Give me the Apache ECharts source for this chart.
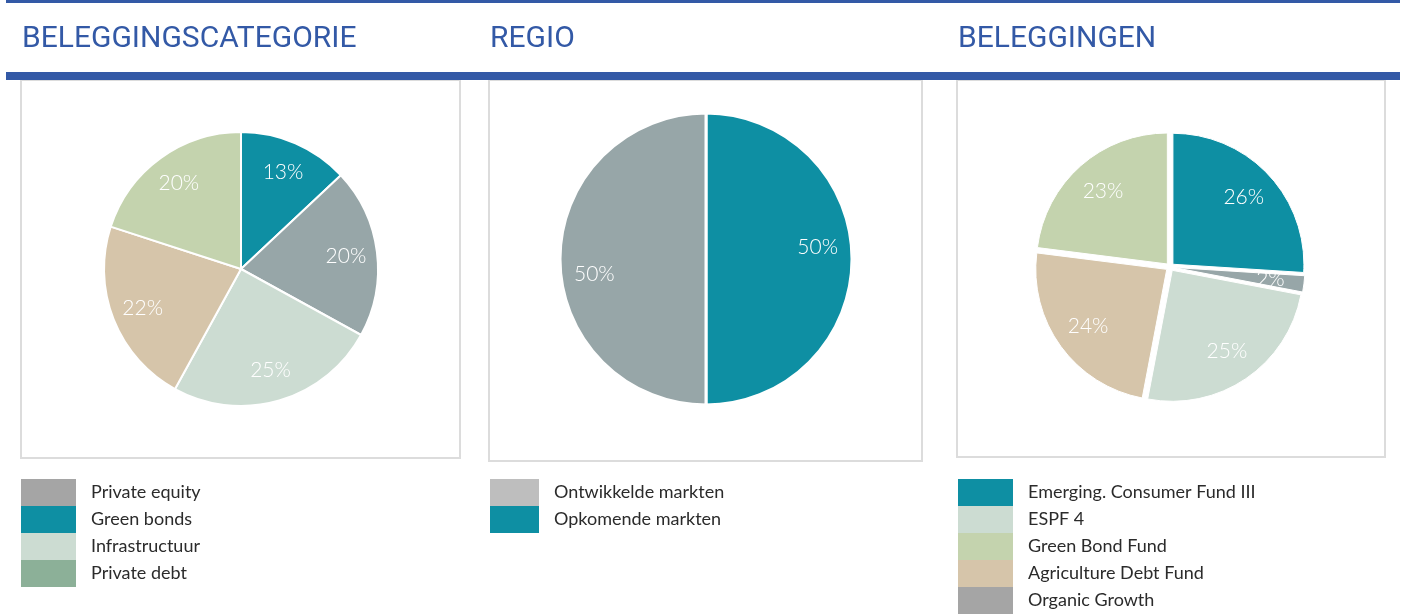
<!DOCTYPE html>
<html>
<head>
<meta charset="utf-8">
<script src="https://cdn.jsdelivr.net/npm/echarts@6/dist/echarts.min.js"></script>
<style>
  html, body { margin: 0; padding: 0; background: #fff; }
  #chart { width: 1405px; height: 615px; }
</style>
</head>
<body>
<div id="chart"></div>
<script>
// titels
var titles = ['BELEGGINGSCATEGORIE', 'REGIO', 'BELEGGINGEN'];

// beleggingscategorie (taart 1, rechtsom vanaf boven)
var catNames = ['Green bonds', 'Private equity', 'Infrastructuur', 'Overig', 'Private debt'];
var catValues = [13, 20, 25, 22, 20];
var catColors = ['#0e8fa3', '#97a6a8', '#ccdcd2', '#d6c5aa', '#c4d3ae'];
var catLegend = ['Private equity', 'Green bonds', 'Infrastructuur', 'Private debt'];
var catLegendColors = ['#a5a5a5', '#0e8fa3', '#ccdcd2', '#8cb098'];

// regio
var regNames = ['Opkomende markten', 'Ontwikkelde markten'];
var regValues = [50, 50];
var regColors = ['#0e8fa3', '#97a6a8'];
var regLegend = ['Ontwikkelde markten', 'Opkomende markten'];
var regLegendColors = ['#bebebe', '#0e8fa3'];

// beleggingen
var belNames = ['Emerging. Consumer Fund III', 'Organic Growth', 'ESPF 4', 'Agriculture Debt Fund', 'Green Bond Fund'];
var belValues = [26, 2, 25, 24, 23];
var belColors = ['#0e8fa3', '#97a6a8', '#ccdcd2', '#d6c5aa', '#c4d3ae'];
var belLegend = ['Emerging. Consumer Fund III', 'ESPF 4', 'Green Bond Fund', 'Agriculture Debt Fund', 'Organic Growth'];
var belLegendColors = ['#0e8fa3', '#ccdcd2', '#c4d3ae', '#d6c5aa', '#a5a5a5'];

var chart = echarts.init(document.getElementById('chart'));

function pieData(names, values, colors, selected) {
  return names.map(function (n, i) {
    return { name: n, value: values[i], selected: !!selected, itemStyle: { color: colors[i] } };
  });
}

// zichtbare taart zonder labels
function pie(names, values, colors, center, r, border, offset) {
  return {
    type: 'pie',
    center: center,
    radius: [0, r],
    startAngle: 90,
    clockwise: true,
    silent: true,
    animation: false,
    selectedMode: offset ? 'multiple' : false,
    selectedOffset: offset || 0,
    itemStyle: { borderColor: '#fff', borderWidth: border },
    label: { show: false },
    labelLine: { show: false },
    data: pieData(names, values, colors, !!offset),
    z: 2
  };
}

// onzichtbare ring voor de percentages (label op ca. 3/4 van de straal)
function labelRing(names, values, center, r, start) {
  return {
    type: 'pie',
    center: center,
    radius: [r * 0.5, r],
    startAngle: start || 90,
    silent: true,
    animation: false,
    itemStyle: { color: 'rgba(0,0,0,0)' },
    label: {
      show: true,
      position: 'inside',
      formatter: '{c}%',
      color: '#fff',
      fontFamily: 'Lato',
      fontWeight: 300,
      fontSize: 21
    },
    labelLine: { show: false },
    data: names.map(function (n, i) { return { name: n, value: values[i] }; }),
    z: 3
  };
}

function legend(names, colors, left, w) {
  return {
    orient: 'vertical',
    left: left,
    top: 479,
    padding: 0,
    itemGap: 0,
    itemWidth: w,
    itemHeight: 27,
    icon: 'rect',
    selectedMode: false,
    itemStyle: { borderWidth: 0 },
    textStyle: { color: '#2b2b2b', fontFamily: 'Lato', fontSize: 18, padding: [0, 0, 0, 10] },
    data: names.map(function (n, i) {
      return { name: n, itemStyle: { color: colors[i], borderWidth: 0 } };
    })
  };
}

var titleX = [22, 490, 958];
var boxes = [[21, 80, 439, 378], [489, 80, 433, 381], [957, 80, 428, 377]];
var graphics = [];
boxes.forEach(function (b) {
  graphics.push({ type: 'rect', shape: { x: b[0], y: b[1], width: b[2], height: b[3] },
    style: { fill: 'none', stroke: '#dcdcdc', lineWidth: 2 }, z: 0 });
});
graphics.push({ type: 'rect', shape: { x: 6, y: 0, width: 1394, height: 3 }, style: { fill: '#3359a6' }, z: 1 });
graphics.push({ type: 'rect', shape: { x: 6, y: 72, width: 1394, height: 8 }, style: { fill: '#3359a6' }, z: 1 });
titles.forEach(function (t, i) {
  graphics.push({ type: 'text', x: titleX[i], y: 39,
    style: { text: t, fill: '#3359a6', font: '30px Roboto', textVerticalAlign: 'middle' }, z: 1 });
});

chart.setOption({
  animation: false,
  graphic: graphics,
  legend: [
    legend(catLegend, catLegendColors, 21, 55),
    legend(regLegend, regLegendColors, 490, 49),
    legend(belLegend, belLegendColors, 958, 55)
  ],
  series: [
    pie(catNames, catValues, catColors, [241, 269], 137, 2, 0),
    labelRing(catNames, catValues, [241, 269], 137),
    pie(regNames, regValues, regColors, [706, 259], 146, 3, 0),
    labelRing(regNames, regValues, [706, 261], 146, 97),
    pie(belNames, belValues, belColors, [1170, 267], 131, 1, 4),
    labelRing(belNames, belValues, [1170, 267], 131)
  ]
});
</script>
</body>
</html>
